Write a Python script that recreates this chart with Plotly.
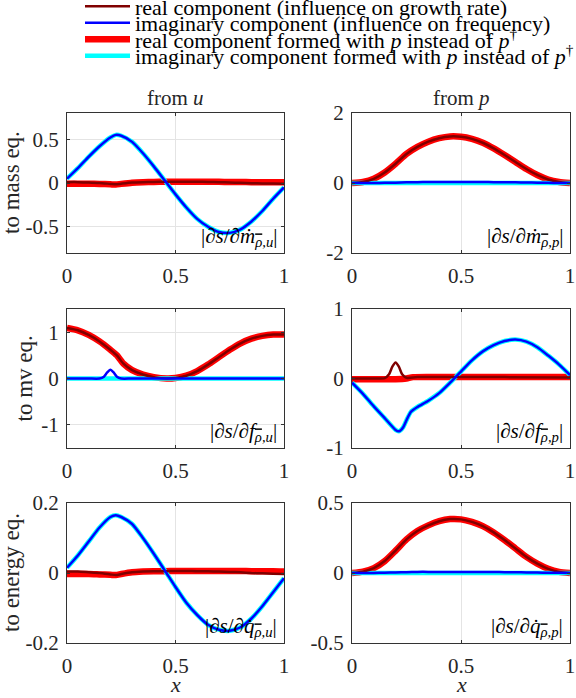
import plotly.graph_objects as go

# ---------------- data ----------------
x_a = [0, 0.05, 0.1, 0.15, 0.2, 0.225, 0.25, 0.3, 0.35, 0.4, 0.45, 0.5,
       0.55, 0.6, 0.65, 0.7, 0.75, 0.8, 0.85, 0.9, 0.95, 1.0]
x_b = [0, 0.05, 0.1, 0.15, 0.2, 0.25, 0.3, 0.35, 0.4, 0.45, 0.5,
       0.55, 0.6, 0.65, 0.7, 0.75, 0.8, 0.85, 0.9, 0.95, 1.0]

# mass eq. from u
imag_tl = [0.05, 0.17, 0.30, 0.42, 0.52, 0.55, 0.54, 0.47, 0.34, 0.19, 0.03, -0.13,
           -0.28, -0.41, -0.50, -0.56, -0.57, -0.53, -0.44, -0.32, -0.18, -0.05]
real_tl = [0.01, 0.01, 0.005, 0.0, -0.01, -0.015, -0.008, 0.005, 0.01, 0.012, 0.014, 0.015,
           0.015, 0.014, 0.012, 0.01, 0.006, 0.002, -0.002, -0.005, -0.007, -0.008]
realp_tl = [-0.008, -0.008, -0.008, -0.01, -0.015, -0.018, -0.01, 0.004, 0.01, 0.012, 0.014, 0.015,
            0.015, 0.015, 0.014, 0.013, 0.012, 0.011, 0.01, 0.009, 0.008, 0.008]
imagp_tl = imag_tl

# mass eq. from p
real_tr = [0, 0.03, 0.12, 0.3, 0.55, 0.83, 1.03, 1.18, 1.28, 1.33, 1.32,
           1.26, 1.15, 0.99, 0.8, 0.6, 0.4, 0.23, 0.1, 0.03, 0]
realp_tr = real_tr
imag_tr = [0, 0, 0, 0.005, 0.01, 0.02, 0.025, 0.03, 0.03, 0.03, 0.03,
           0.03, 0.028, 0.025, 0.02, 0.018, 0.015, 0.01, 0.005, 0.002, 0]
imagp_tr = [0] * 21

# mv eq. from u
x_ml = [0, 0.05, 0.1, 0.15, 0.2, 0.23, 0.26, 0.3, 0.35, 0.4, 0.46, 0.5,
        0.55, 0.6, 0.65, 0.7, 0.75, 0.8, 0.85, 0.9, 0.95, 1.0]
real_ml = [1.09, 1.04, 0.94, 0.8, 0.62, 0.5, 0.32, 0.18, 0.085, 0.03, 0.0, 0.01,
           0.06, 0.16, 0.3, 0.46, 0.62, 0.76, 0.86, 0.92, 0.95, 0.95]
realp_ml = real_ml
x_ml_im = [0, 0.1, 0.15, 0.17, 0.185, 0.2, 0.215, 0.23, 0.25, 0.3, 1.0]
imag_ml = [0, 0, 0, 0.04, 0.13, 0.19, 0.13, 0.04, 0, 0, 0]
x_ml_imp = [0, 1.0]
imagp_ml = [0, 0]

# mv eq. from p
x_mr = [0, 0.05, 0.1, 0.15, 0.2, 0.215, 0.235, 0.25, 0.27, 0.3, 0.35, 0.4, 0.45, 0.5,
        0.55, 0.6, 0.65, 0.7, 0.75, 0.8, 0.85, 0.9, 0.95, 1.0]
imag_mr = [-0.06, -0.22, -0.4, -0.57, -0.74, -0.76, -0.7, -0.6, -0.48, -0.41, -0.32, -0.21, -0.06, 0.1,
           0.26, 0.39, 0.48, 0.54, 0.56, 0.53, 0.45, 0.33, 0.2, 0.05]
imagp_mr = imag_mr
x_mr_re = [0, 0.1, 0.15, 0.17, 0.185, 0.2, 0.215, 0.23, 0.25, 0.3, 0.5, 0.7, 1.0]
real_mr = [0, 0, 0.005, 0.06, 0.17, 0.23, 0.17, 0.06, 0.01, 0.02, 0.02, 0.02, 0.015]
x_mr_rep = [0, 0.2, 0.25, 0.28, 0.5, 1.0]
realp_mr = [-0.01, -0.01, 0.0, 0.02, 0.02, 0.02]

# energy eq. from u
imag_bl = [0.015, 0.05, 0.09, 0.13, 0.16, 0.165, 0.16, 0.14, 0.10, 0.055, 0.008, -0.04,
           -0.085, -0.12, -0.148, -0.162, -0.165, -0.155, -0.13, -0.095, -0.055, -0.015]
imagp_bl = imag_bl
real_bl = [0.004, 0.004, 0.002, 0.0, -0.004, -0.006, -0.003, 0.002, 0.004, 0.005, 0.005, 0.006,
           0.006, 0.005, 0.005, 0.004, 0.003, 0.002, 0.0, -0.001, -0.002, -0.003]
realp_bl = [-0.003, -0.003, -0.003, -0.004, -0.005, -0.006, -0.003, 0.002, 0.004, 0.005, 0.005, 0.006,
            0.006, 0.006, 0.006, 0.006, 0.006, 0.006, 0.005, 0.005, 0.005, 0.004]

# energy eq. from p
real_br = [0, 0.01, 0.035, 0.085, 0.16, 0.24, 0.3, 0.34, 0.37, 0.385, 0.383,
           0.365, 0.335, 0.29, 0.235, 0.175, 0.115, 0.067, 0.03, 0.008, 0]
realp_br = real_br
imag_br = [0, 0, 0, 0.002, 0.004, 0.006, 0.008, 0.008, 0.008, 0.008, 0.008,
           0.008, 0.008, 0.007, 0.006, 0.005, 0.004, 0.003, 0.002, 0.001, 0]
imagp_br = [0] * 21

legend_names = [
    "real component (influence on growth rate)",
    "imaginary component (influence on frequency)",
    "real component formed with <i>p</i> instead of <i>p</i><sup>†</sup>",
    "imaginary component formed with <i>p</i> instead of <i>p</i><sup>†</sup>",
]
col_titles = ["from <i>u</i>", "from <i>p</i>"]
row_titles = ["to mass eq.", "to mv eq.", "to energy eq."]
RHO = '<span style="text-decoration:overline">ρ</span>'
panel_labels = [
    "|∂<i>s</i>/∂<i>ṁ</i><sub><i>" + RHO + ",u</i></sub>|",
    "|∂<i>s</i>/∂<i>ṁ</i><sub><i>" + RHO + ",p</i></sub>|",
    "|∂<i>s</i>/∂<i>f</i><sub><i>" + RHO + ",u</i></sub>|",
    "|∂<i>s</i>/∂<i>f</i><sub><i>" + RHO + ",p</i></sub>|",
    "|∂<i>s</i>/∂<i>q̇</i><sub><i>" + RHO + ",u</i></sub>|",
    "|∂<i>s</i>/∂<i>q̇</i><sub><i>" + RHO + ",p</i></sub>|",
]
y_ranges = [[-0.8, 0.8], [-2, 2], [-1.5, 1.5], [-1, 1], [-0.2, 0.2], [-0.5, 0.5]]
y_ticks = [[-0.5, 0, 0.5], [-2, 0, 2], [-1, 0, 1], [-1, 0, 1], [-0.2, 0, 0.2], [-0.5, 0, 0.5]]
y_ticktext = [["-0.5", "0", "0.5"], ["-2", "0", "2"], ["-1", "0", "1"], ["-1", "0", "1"],
              ["-0.2", "0", "0.2"], ["-0.5", "0", "0.5"]]
x_ticks = [0, 0.5, 1]
x_ticktext = ["0", "0.5", "1"]

panels = [
    # (x_real, real, x_imag, imag, x_realp, realp, x_imagp, imagp)
    (x_a, real_tl, x_a, imag_tl, x_a, realp_tl, x_a, imagp_tl),
    (x_b, real_tr, x_b, imag_tr, x_b, realp_tr, x_b, imagp_tr),
    (x_ml, real_ml, x_ml_im, imag_ml, x_ml, realp_ml, x_ml_imp, imagp_ml),
    (x_mr_re, real_mr, x_mr, imag_mr, x_mr_rep, realp_mr, x_mr, imagp_mr),
    (x_a, real_bl, x_a, imag_bl, x_a, realp_bl, x_a, imagp_bl),
    (x_b, real_br, x_b, imag_br, x_b, realp_br, x_b, imagp_br),
]

# ---------------- styling ----------------
FONT = "Liberation Serif, Times New Roman, DejaVu Serif, serif"
TXT = "#262626"
C_REAL, C_IMAG, C_REALP, C_IMAGP = "#800000", "#0000ff", "#ff0000", "#00ffff"
W_REAL, W_IMAG, W_REALP, W_IMAGP = 2.5, 2.5, 6.5, 4.5

W, H = 576, 698
x_dom = [[67 / W, 284 / W], [352 / W, 570 / W]]
y_dom = [[1 - 253 / H, 1 - 113 / H], [1 - 448 / H, 1 - 309 / H], [1 - 643 / H, 1 - 503 / H]]

fig = go.Figure()
legend_keys = ["legend", "legend2", "legend3", "legend4"]

for i, (xr, yr, xi, yi, xrp, yrp, xip, yip) in enumerate(panels):
    ax = "" if i == 0 else str(i + 1)
    first = i == 0
    common = dict(xaxis="x" + ax, yaxis="y" + ax, mode="lines", hoverinfo="skip")
    fig.add_trace(go.Scatter(x=xrp, y=yrp, line=dict(color=C_REALP, width=W_REALP, shape="spline", smoothing=0.6),
                             name=legend_names[2], showlegend=first, legend=legend_keys[2], **common))
    fig.add_trace(go.Scatter(x=xip, y=yip, line=dict(color=C_IMAGP, width=W_IMAGP, shape="spline", smoothing=0.6),
                             name=legend_names[3], showlegend=first, legend=legend_keys[3], **common))
    fig.add_trace(go.Scatter(x=xr, y=yr, line=dict(color=C_REAL, width=W_REAL, shape="spline", smoothing=0.6),
                             name=legend_names[0], showlegend=first, legend=legend_keys[0], **common))
    fig.add_trace(go.Scatter(x=xi, y=yi, line=dict(color=C_IMAG, width=W_IMAG, shape="spline", smoothing=0.6),
                             name=legend_names[1], showlegend=first, legend=legend_keys[1], **common))

layout = dict(
    width=W, height=H,
    margin=dict(l=0, r=0, t=0, b=0, autoexpand=False),
    paper_bgcolor="white", plot_bgcolor="white",
    font=dict(family=FONT, size=21, color=TXT),
    annotations=[],
)

for i in range(6):
    r, c = divmod(i, 2)
    ax = "" if i == 0 else str(i + 1)
    axis_common = dict(showline=True, linecolor="#333333", linewidth=1, mirror="ticks",
                       ticks="inside", ticklen=3, tickcolor="#333333",
                       showgrid=True, gridcolor="#e4e4e4", gridwidth=1, zeroline=False,
                       automargin=False,
                       tickfont=dict(family=FONT, size=21, color=TXT))
    layout["xaxis" + ax] = dict(domain=x_dom[c], anchor="y" + ax, range=[0, 1],
                                tickvals=x_ticks, ticktext=x_ticktext, ticklabelstandoff=4, **axis_common)
    layout["yaxis" + ax] = dict(domain=y_dom[r], anchor="x" + ax, range=y_ranges[i],
                                tickvals=y_ticks[i], ticktext=y_ticktext[i], ticklabelstandoff=3, **axis_common)
    layout["annotations"].append(dict(
        text=panel_labels[i], xref="x" + ax + " domain", yref="y" + ax + " domain",
        x=0.975, y=0.01, xanchor="right", yanchor="bottom", showarrow=False,
        font=dict(family=FONT, size=21, color="black")))

# column titles and x labels
for c in range(2):
    layout["annotations"].append(dict(
        text=col_titles[c], xref="paper", yref="paper",
        x=(x_dom[c][0] + x_dom[c][1]) / 2, y=1 - 98 / H, xanchor="center", yanchor="middle",
        showarrow=False, font=dict(family=FONT, size=21, color=TXT)))
    layout["annotations"].append(dict(
        text="<i>x</i>", xref="paper", yref="paper",
        x=(x_dom[c][0] + x_dom[c][1]) / 2, y=1 - 684 / H, xanchor="center", yanchor="middle",
        showarrow=False, font=dict(family=FONT, size=22, color=TXT)))

row_label_x = [11, 24, 11]
for r in range(3):
    layout["annotations"].append(dict(
        text=row_titles[r], xref="paper", yref="paper", textangle=-90,
        x=row_label_x[r] / W, y=(y_dom[r][0] + y_dom[r][1]) / 2, xanchor="center", yanchor="middle",
        showarrow=False, font=dict(family=FONT, size=23, color=TXT)))

legend_y = [6.5, 23, 39.5, 56]
for k in range(4):
    layout[legend_keys[k]] = dict(
        x=80 / W, y=1 - legend_y[k] / H, xanchor="left", yanchor="middle",
        bgcolor="rgba(0,0,0,0)", borderwidth=0, itemwidth=45,
        font=dict(family=FONT, size=22, color="black"))

fig.update_layout(**layout)
fig.write_html("out.html")
